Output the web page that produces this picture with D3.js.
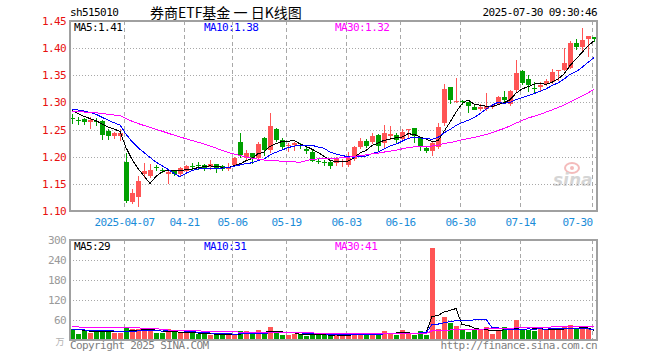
<!DOCTYPE html>
<html lang='zh'>
	<head>
		<title>券商ETF基金 日K线图</title>
		<meta charset=utf-8>
		<script src="https://cdn.jsdelivr.net/npm/d3@7"></script>
		<style>
			body {
				margin: 0;
				background-color: white;
			}
			text {
				font-family: "DejaVu Sans Mono", "Liberation Mono", monospace;
				font-size: 11px;
				letter-spacing: -0.6px;
			}
			.frame {
				fill: none;
				stroke: #a0a0a0;
				stroke-width: 2;
			}
			.hgrid {
				stroke: #a8a8a8;
				stroke-dasharray: 1,2;
				shape-rendering: crispEdges;
			}
			.vgrid {
				stroke: #a8a8a8;
				stroke-dasharray: 4,3;
				shape-rendering: crispEdges;
			}
			.ma {
				fill: none;
				stroke-width: 1;
				shape-rendering: crispEdges;
			}
		</style>
	</head>
	<body>
		<svg id='chart' width="660" height="360"></svg>

	<script>
		// trading days shown
		var dates = [
			'2025-03-24','2025-03-25','2025-03-26','2025-03-27','2025-03-28','2025-03-31','2025-04-01','2025-04-02','2025-04-03',
			'2025-04-07','2025-04-08','2025-04-09','2025-04-10','2025-04-11','2025-04-14','2025-04-15','2025-04-16','2025-04-17','2025-04-18',
			'2025-04-21','2025-04-22','2025-04-23','2025-04-24','2025-04-25','2025-04-28','2025-04-29','2025-04-30',
			'2025-05-06','2025-05-07','2025-05-08','2025-05-09','2025-05-12','2025-05-13','2025-05-14','2025-05-15','2025-05-16',
			'2025-05-19','2025-05-20','2025-05-21','2025-05-22','2025-05-23','2025-05-26','2025-05-27','2025-05-28','2025-05-29','2025-05-30',
			'2025-06-03','2025-06-04','2025-06-05','2025-06-06','2025-06-09','2025-06-10','2025-06-11','2025-06-12','2025-06-13',
			'2025-06-16','2025-06-17','2025-06-18','2025-06-19','2025-06-20','2025-06-23','2025-06-24','2025-06-25','2025-06-26','2025-06-27',
			'2025-06-30','2025-07-01','2025-07-02','2025-07-03','2025-07-04','2025-07-07','2025-07-08','2025-07-09','2025-07-10','2025-07-11',
			'2025-07-14','2025-07-15','2025-07-16','2025-07-17','2025-07-18','2025-07-21','2025-07-22','2025-07-23','2025-07-24','2025-07-25',
			'2025-07-28','2025-07-29','2025-07-30'
		];

		var open = [
			1.2715,1.2670,1.2690,1.2645,1.2660,1.2658,1.2480,1.2387,1.2369,
			1.1897,1.1160,1.1263,1.1694,1.1645,1.1808,1.1748,1.1694,1.1737,1.1695,
			1.1737,1.1835,1.1850,1.1847,1.1810,1.1860,1.1822,1.1775,
			1.1834,1.2277,1.1982,1.2074,1.1970,1.2339,1.2124,1.2505,1.2308,
			1.2195,1.2203,1.2218,1.2137,1.2092,1.1925,1.1900,1.1908,1.1878,1.1905,
			1.1847,1.1970,1.2185,1.2295,1.2265,1.2400,1.2247,1.2382,1.2400,
			1.2326,1.2495,1.2523,1.2339,1.2166,1.2105,1.2185,1.2615,1.3278,1.3023,
			1.3026,1.3000,1.2920,1.2885,1.2879,1.2917,1.2984,1.3093,1.2975,1.3229,
			1.3579,1.3426,1.3265,1.3291,1.3339,1.3382,1.3573,1.3603,1.3640,1.4100,
			1.4020,1.4164,1.4212
		];
		var high = [
			1.2790,1.2726,1.2710,1.2737,1.2710,1.2676,1.2508,1.2460,1.2505,
			1.2063,1.1405,1.1645,1.1879,1.1866,1.1840,1.1790,1.1740,1.1750,1.1810,
			1.1855,1.1890,1.1898,1.1860,1.1940,1.1870,1.1850,1.1885,
			1.2000,1.2430,1.2124,1.2074,1.2265,1.2357,1.2800,1.2523,1.2350,
			1.2247,1.2278,1.2247,1.2173,1.2118,1.1970,1.1940,1.1940,1.2000,1.1965,
			1.2080,1.2197,1.2345,1.2323,1.2430,1.2413,1.2584,1.2566,1.2431,
			1.2505,1.2505,1.2523,1.2369,1.2173,1.2290,1.2615,1.3334,1.3289,1.3456,
			1.3045,1.3005,1.2950,1.2965,1.3168,1.2980,1.3110,1.3216,1.3230,1.3780,
			1.3597,1.3505,1.3382,1.3370,1.3437,1.3610,1.3597,1.3998,1.4130,1.4161,
			1.4366,1.4224,1.4212
		];
		var low = [
			1.2620,1.2603,1.2610,1.2523,1.2590,1.2326,1.2320,1.2350,1.2308,
			1.1160,1.1142,1.1098,1.1632,1.1620,1.1760,1.1710,1.1520,1.1660,1.1670,
			1.1720,1.1770,1.1775,1.1750,1.1770,1.1724,1.1750,1.1755,
			1.1820,1.2000,1.1940,1.1880,1.1945,1.2031,1.2092,1.2290,1.2155,
			1.2110,1.2118,1.2155,1.2063,1.1915,1.1878,1.1853,1.1800,1.1847,1.1820,
			1.1820,1.1945,1.2167,1.2185,1.2246,1.2110,1.2185,1.2323,1.2265,
			1.2308,1.2369,1.2277,1.2124,1.2081,1.2032,1.2155,1.2584,1.2983,1.3013,
			1.2970,1.2830,1.2870,1.2855,1.2860,1.2890,1.2970,1.2995,1.2960,1.3216,
			1.3340,1.3210,1.3180,1.3216,1.3320,1.3360,1.3419,1.3597,1.3628,1.3977,
			1.3947,1.3855,1.4140
		];
		var close = [
			1.2705,1.2660,1.2630,1.2675,1.2650,1.2405,1.2387,1.2442,1.2431,
			1.1171,1.1326,1.1553,1.1742,1.1755,1.1802,1.1742,1.1724,1.1687,1.1798,
			1.1834,1.1825,1.1845,1.1787,1.1860,1.1787,1.1768,1.1785,
			1.1970,1.2031,1.2074,1.1970,1.2228,1.2124,1.2566,1.2308,1.2185,
			1.2215,1.2247,1.2212,1.2092,1.1927,1.1915,1.1895,1.1834,1.1970,1.1925,
			1.1970,1.2185,1.2295,1.2197,1.2382,1.2203,1.2431,1.2413,1.2308,
			1.2460,1.2505,1.2369,1.2185,1.2105,1.2247,1.2553,1.3247,1.3032,1.3032,
			1.3002,1.2920,1.2873,1.2923,1.2940,1.2960,1.3105,1.3032,1.3216,1.3536,
			1.3352,1.3308,1.3259,1.3328,1.3400,1.3566,1.3597,1.3726,1.4100,1.4020,
			1.4149,1.4224,1.4174
		];
		// volume, 万手
		var volume = [
			34,17,27,20,27,30,24,20,20,
			39,34,32,30,30,20,20,32,24,20,
			22,20,18,18,16,16,16,16,
			14,26,26,17,29,17,39,21,15,
			15,19,17,12,17,16,16,12,14,16,
			14,21,18,15,22,22,28,18,15,
			30,18,16,28,14,276,33,70,50,43,
			33,24,30,30,38,17,28,38,30,60,
			30,30,26,35,31,30,31,38,44,36,
			32,32,3
		];

		// earlier sessions (left of the chart), only feed the moving averages
		var prevClose = [
			1.279,1.286,1.290,1.284,1.281,1.287,1.283,1.278,
			1.276,1.279,1.284,1.282,1.286,1.281,1.278,1.283,1.277,1.280,1.282,1.2795,
			1.278,1.282,1.294,1.297,1.297,1.292,1.291,1.287,1.2845
		];
		var prevVolume = [
			70,70,22,29,32,26,22,22,
			51,46,44,42,42,32,150,50,42,38,40,38,
			30,32,31,30,32,30,30,36,35
		];

		var maDays = [5, 10, 30];
		var maColors = ['#000000', '#0000ff', '#ff00ff'];

		var priceTicks = [1.10, 1.15, 1.20, 1.25, 1.30, 1.35, 1.40, 1.45];
		var volumeTicks = [60, 120, 180, 240, 300];
		var tickDates = ['2025-04-07','2025-04-21','2025-05-06','2025-05-19','2025-06-03','2025-06-16','2025-06-30','2025-07-14','2025-07-30'];
		var tickLabels = ['2025-04-07','04-21','05-06','05-19','06-03','06-16','06-30','07-14','07-30'];

		var UP = '#ff5555';
		var DOWN = '#00a000';

		var svg = d3.select('#chart');

		// scales
		var x = d3.scaleBand().domain(dates).range([69, 597]);
		var yP = d3.scaleLinear().domain([1.10, 1.45]).range([211, 21]);
		var yV = d3.scaleLinear().domain([0, 300]).range([340, 240]);
		var cx = function(d) { return x(d) + 3; };

		// moving average over the data plus the earlier sessions
		var movingAvg = function(prev, vals, n) {
			var all = prev.concat(vals);
			var off = prev.length;
			return vals.map(function(v, i) {
				return d3.mean(all.slice(off + i - n + 1, off + i + 1));
			});
		};

		var upDay = function(i) { return close[i] >= open[i]; };

		// header
		svg.append('text').attr('x', 70).attr('y', 16).text('sh515010');
		svg.append('text').attr('x', 150).attr('y', 18)
			.attr('xml:space', 'preserve').style('white-space', 'pre')
			.style('font-family', '"Noto Sans CJK SC", sans-serif').style('font-size', '14px').style('letter-spacing', '0')
			.text('券商ETF基金 一 日K线图');
		svg.append('text').attr('x', 597).attr('y', 16).attr('text-anchor', 'end').text('2025-07-30 09:30:46');

		// grid, price panel
		svg.append('g').selectAll('line').data(priceTicks.slice(1, -1)).join('line')
			.attr('class', 'hgrid')
			.attr('x1', 70).attr('x2', 597)
			.attr('y1', function(d) { return Math.round(yP(d)) + 0.5; })
			.attr('y2', function(d) { return Math.round(yP(d)) + 0.5; });
		// grid, volume panel
		svg.append('g').selectAll('line').data(volumeTicks.slice(0, -1)).join('line')
			.attr('class', 'hgrid')
			.attr('x1', 70).attr('x2', 597)
			.attr('y1', function(d) { return Math.round(yV(d)) + 0.5; })
			.attr('y2', function(d) { return Math.round(yV(d)) + 0.5; });

		// vertical dashed lines at the labelled dates
		[[21, 211], [240, 340]].forEach(function(r) {
			svg.append('g').selectAll('line').data(tickDates).join('line')
				.attr('class', 'vgrid')
				.attr('x1', function(d) { return x(d) + 1.5; })
				.attr('x2', function(d) { return x(d) + 1.5; })
				.attr('y1', r[0]).attr('y2', r[1]);
		});

		// sina watermark
		var wm = svg.append('g').attr('opacity', 0.35);
		wm.append('ellipse').attr('cx', 572).attr('cy', 168).attr('rx', 7).attr('ry', 5)
			.attr('fill', 'none').attr('stroke', '#e04040').attr('stroke-width', 2);
		wm.append('circle').attr('cx', 572).attr('cy', 168).attr('r', 2).attr('fill', '#e04040');
		wm.append('text').attr('x', 553).attr('y', 186)
			.style('font-family', '"DejaVu Sans", sans-serif').style('font-size', '17px').style('letter-spacing', '0')
			.style('font-weight', 'bold').style('font-style', 'italic')
			.attr('fill', '#888').text('sina');

		// candles
		var candles = svg.append('g').selectAll('g').data(dates).join('g')
			.attr('fill', function(d, i) { return upDay(i) ? UP : DOWN; })
			.attr('stroke', function(d, i) { return upDay(i) ? UP : DOWN; });
		candles.append('line')
			.attr('x1', function(d) { return x(d) + 3.5; })
			.attr('x2', function(d) { return x(d) + 3.5; })
			.attr('y1', function(d, i) { return Math.round(yP(high[i])); })
			.attr('y2', function(d, i) { return Math.round(yP(low[i])) + 1; })
			.attr('shape-rendering', 'crispEdges');
		candles.append('rect')
			.attr('stroke', 'none')
			.attr('x', function(d) { return x(d) + 1; })
			.attr('width', 5)
			.attr('y', function(d, i) { return Math.round(yP(Math.max(open[i], close[i]))); })
			.attr('height', function(d, i) { return Math.max(1, Math.round(Math.abs(yP(open[i]) - yP(close[i])))); });

		// volume bars
		svg.append('g').selectAll('rect').data(dates).join('rect')
			.attr('fill', function(d, i) { return upDay(i) ? UP : DOWN; })
			.attr('x', function(d) { return x(d) + 1; })
			.attr('width', 5)
			.attr('y', function(d, i) { return Math.round(yV(volume[i])); })
			.attr('height', function(d, i) { return 340 - Math.round(yV(volume[i])); });

		// moving average lines
		var priceMA = maDays.map(function(n) { return movingAvg(prevClose, close, n); });
		var volMA = maDays.map(function(n) { return movingAvg(prevVolume, volume, n); });

		maDays.forEach(function(n, k) {
			svg.append('path').attr('class', 'ma').attr('stroke', maColors[k])
				.attr('d', d3.line().x(function(d, i) { return cx(dates[i]); }).y(function(d) { return yP(d); })(priceMA[k]));
			svg.append('path').attr('class', 'ma').attr('stroke', maColors[k])
				.attr('d', d3.line().x(function(d, i) { return cx(dates[i]); }).y(function(d) { return yV(d); })(volMA[k]));
		});

		// frames
		svg.append('rect').attr('class', 'frame').attr('x', 70).attr('y', 21).attr('width', 527).attr('height', 190);
		svg.append('rect').attr('class', 'frame').attr('x', 70).attr('y', 240).attr('width', 527).attr('height', 100);

		// MA legends
		var last = dates.length - 1;
		var legendX = [74, 204, 335];
		maDays.forEach(function(n, k) {
			svg.append('text').attr('x', legendX[k]).attr('y', 31).attr('fill', maColors[k])
				.text('MA' + n + ':' + priceMA[k][last].toFixed(2));
			svg.append('text').attr('x', legendX[k]).attr('y', 250).attr('fill', maColors[k])
				.text('MA' + n + ':' + Math.round(volMA[k][last]));
		});

		// axes
		var ay = svg.append('g').attr('transform', 'translate(70,0)')
			.call(d3.axisLeft(yP).tickValues(priceTicks).tickFormat(d3.format('.2f')).tickSize(0).tickPadding(4));
		ay.select('.domain').remove();
		ay.selectAll('text').attr('fill', '#e81010');
		ay.attr('font-family', null).attr('font-size', null);

		var av = svg.append('g').attr('transform', 'translate(70,0)')
			.call(d3.axisLeft(yV).tickValues(volumeTicks).tickSize(0).tickPadding(4));
		av.select('.domain').remove();
		av.selectAll('text').attr('fill', '#9a9a9a');
		av.attr('font-family', null).attr('font-size', null);

		var ax = svg.append('g').attr('transform', 'translate(-1.5,212)')
			.call(d3.axisBottom(x).tickValues(tickDates)
				.tickFormat(function(d, i) { return tickLabels[i]; }).tickSize(0).tickPadding(6));
		ax.select('.domain').remove();
		ax.selectAll('text').attr('fill', '#1a8cd8');
		ax.attr('font-family', null).attr('font-size', null);
		// last label is pulled back inside the frame
		ax.selectAll('.tick').filter(function(d) { return d === tickDates[tickDates.length - 1]; })
			.select('text').attr('text-anchor', 'end').attr('x', 0);

		// footer
		svg.append('text').attr('x', 64).attr('y', 345).attr('text-anchor', 'end').attr('fill', '#b0b0b0')
			.style('font-family', '"Noto Sans CJK SC", sans-serif').style('font-size', '9px').text('万');
		svg.append('text').attr('x', 70).attr('y', 349).attr('fill', '#808080').text('Copyright 2025 SINA.COM');
		svg.append('text').attr('x', 597).attr('y', 349).attr('text-anchor', 'end').attr('fill', '#808080').text('http://finance.sina.com.cn');
	</script>
	</body>
</html>
